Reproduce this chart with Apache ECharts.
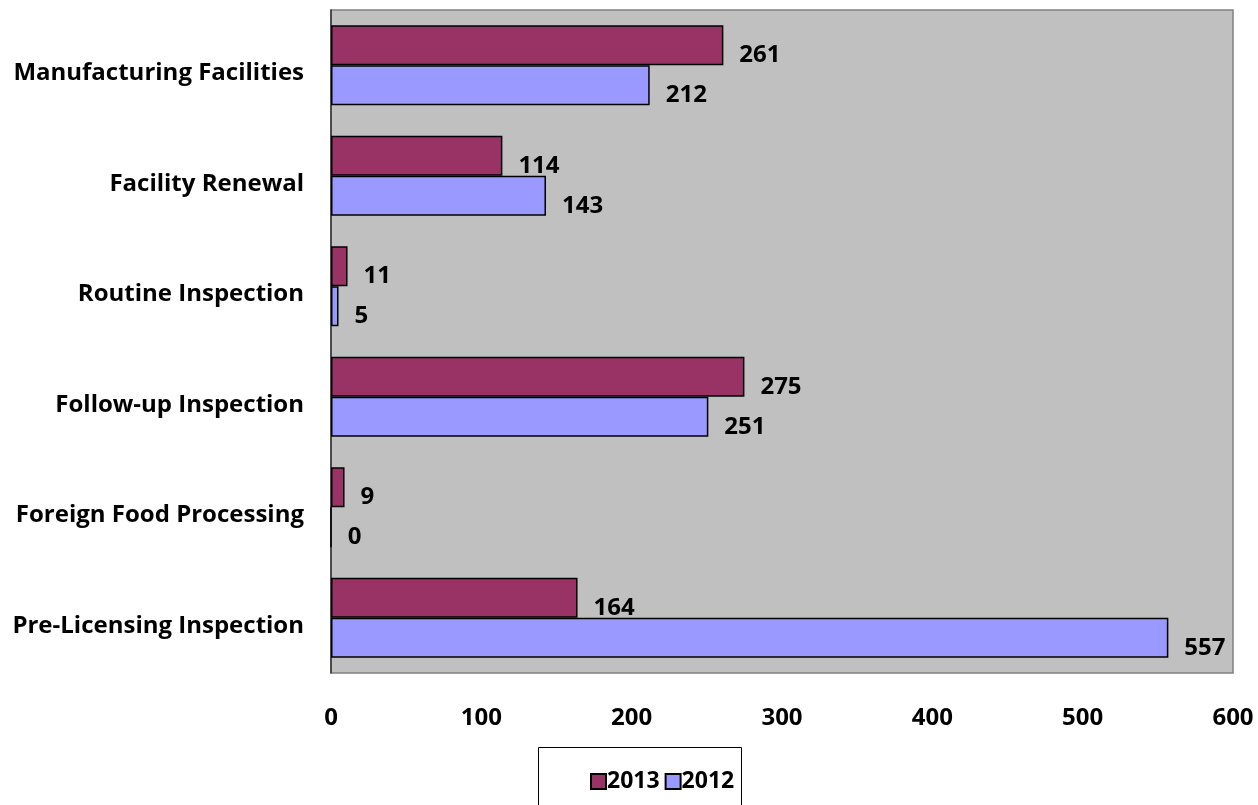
<!DOCTYPE html>
<html>
<head>
<meta charset="utf-8">
<script src="https://cdn.jsdelivr.net/npm/echarts@6/dist/echarts.min.js"></script>
<style>
  html, body { margin: 0; padding: 0; background: #fff; }
  #chart { width: 1258px; height: 805px; }
</style>
</head>
<body>
<div id="chart"></div>
<script>
// Inspection categories, listed top to bottom
const categories = [
  'Manufacturing Facilities',
  'Facility Renewal',
  'Routine Inspection',
  'Follow-up Inspection',
  'Foreign Food Processing',
  'Pre-Licensing Inspection'
];
const values2013 = [261, 114, 11, 275, 9, 164];
const values2012 = [212, 143, 5, 251, 0, 557];
const xTicks = { min: 0, max: 600, interval: 100 };

const FONT = '"Open Sans", sans-serif';
const chart = echarts.init(document.getElementById('chart'));

const labelStyle = {
  show: true,
  position: 'right',
  distance: 16,
  offset: [0, 10],
  color: '#000',
  fontFamily: FONT,
  fontWeight: 'bold',
  fontSize: 24
};

chart.setOption({
  animation: false,
  grid: {
    left: 331, right: 25, top: 10, bottom: 132,
    show: true,
    backgroundColor: '#C0C0C0',
    borderColor: '#808080',
    borderWidth: 1.5
  },
  legend: {
    data: ['2013', '2012'],
    left: 585,
    top: 765,
    itemWidth: 15,
    itemHeight: 15,
    itemGap: 5,
    icon: 'rect',
    textStyle: { fontFamily: FONT, fontWeight: 'bold', fontSize: 23, color: '#000', padding: [0, 0, 0, -4] }
  },
  graphic: [{
    type: 'rect',
    shape: { x: 538.5, y: 747.5, width: 203, height: 70 },
    style: { fill: 'none', stroke: '#000', lineWidth: 1 },
    z: -1
  }],
  xAxis: {
    type: 'value',
    min: xTicks.min, max: xTicks.max, interval: xTicks.interval,
    splitLine: { show: false },
    axisLine: { show: false },
    axisTick: { show: false },
    axisLabel: { margin: 33, color: '#000', fontFamily: FONT, fontWeight: 'bold', fontSize: 24 }
  },
  yAxis: {
    type: 'category',
    inverse: true,
    data: categories,
    axisLine: { show: true, lineStyle: { color: '#333', width: 1.5 } },
    axisTick: { show: false },
    axisLabel: {
      margin: 27, color: '#000', fontFamily: FONT, fontWeight: 'bold', fontSize: 24,
      verticalAlign: 'top', lineHeight: 16
    }
  },
  series: [
    {
      name: '2013', type: 'bar', data: values2013,
      barWidth: 40, barGap: '0%',
      itemStyle: { color: '#993366', borderColor: '#000', borderWidth: 1.5 },
      label: labelStyle
    },
    {
      name: '2012', type: 'bar', data: values2012,
      barWidth: 40, barGap: '0%',
      itemStyle: { color: '#9999FF', borderColor: '#000', borderWidth: 1.5 },
      label: labelStyle
    }
  ]
});
</script>
</body>
</html>
